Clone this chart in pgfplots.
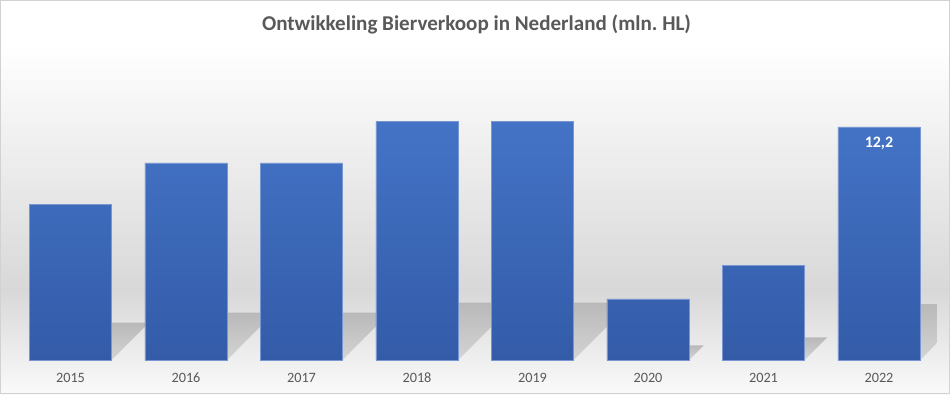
\documentclass[border=0pt]{standalone}
\usepackage{fontspec}
\setmainfont{Carlito}
\usepackage{pgfplots}
\pgfplotsset{compat=1.18}
\definecolor{barTop}{RGB}{68,115,198}
\definecolor{barBot}{RGB}{51,91,168}
\definecolor{barEdge}{RGB}{120,150,210}
\definecolor{txt}{RGB}{89,89,89}
\definecolor{bgMid}{RGB}{216,216,216}
\definecolor{bgLow}{RGB}{250,250,250}
\definecolor{frameC}{RGB}{210,210,210}
\definecolor{shTop}{RGB}{185,185,185}
\definecolor{shBot}{RGB}{212,212,212}
\begin{document}
\begin{tikzpicture}
\begin{scope}[x=0.75pt,y=0.75pt]
\fill[white] (0,0) rectangle (950,394);
\shade[top color=white, bottom color=bgMid] (0,103.5) rectangle (950,349);
\shade[top color=bgMid, bottom color=bgLow] (0,0) rectangle (950,104);
\node[anchor=base, text=txt, font=\bfseries\fontsize{15.8}{19}\selectfont] at (476.5,364) {Ontwikkeling Bierverkoop in Nederland (mln.\ HL)};
\end{scope}
\begin{axis}[
  at={(9.5625pt,25.5pt)}, anchor=south west,
  scale only axis, width=693pt, height=232.5pt,
  xmin=-0.5, xmax=7.5, ymin=8, ymax=13.586,
  axis line style={draw=none},
  ytick=\empty,
  xtick={0,...,7},
  xticklabels={2015,2016,2017,2018,2019,2020,2021,2022},
  major tick length=0pt,
  xticklabel style={anchor=base, yshift=-16.8pt, font=\fontsize{10.7}{12}\selectfont, text=txt},
  clip=true,
]
% perspective shadows behind the bars
\addplot[draw=none, top color=shTop, bottom color=shBot, mark=none] coordinates {(-0.355,8) (0.355,8) (0.678,8.672) (-0.032,8.672)} -- cycle;
\addplot[draw=none, top color=shTop, bottom color=shBot, mark=none] coordinates {(0.645,8) (1.355,8) (1.764,8.852) (1.054,8.852)} -- cycle;
\addplot[draw=none, top color=shTop, bottom color=shBot, mark=none] coordinates {(1.645,8) (2.355,8) (2.764,8.852) (2.054,8.852)} -- cycle;
\addplot[draw=none, top color=shTop, bottom color=shBot, mark=none] coordinates {(2.645,8) (3.355,8) (3.851,9.032) (3.141,9.032)} -- cycle;
\addplot[draw=none, top color=shTop, bottom color=shBot, mark=none] coordinates {(3.645,8) (4.355,8) (4.851,9.032) (4.141,9.032)} -- cycle;
\addplot[draw=none, top color=shTop, bottom color=shBot, mark=none] coordinates {(4.645,8) (5.355,8) (5.482,8.264) (4.772,8.264)} -- cycle;
\addplot[draw=none, top color=shTop, bottom color=shBot, mark=none] coordinates {(5.645,8) (6.355,8) (6.551,8.408) (5.841,8.408)} -- cycle;
\addplot[draw=none, top color=shTop, bottom color=shBot, mark=none] coordinates {(6.645,8) (7.355,8) (7.839,9.008) (7.129,9.008)} -- cycle;
% bars
\addplot[ybar, bar width=0.71, bar shift=0pt, draw=barEdge, line width=0.5pt, top color=barTop, bottom color=barBot]
  coordinates {(0,10.8) (1,11.55) (2,11.55) (3,12.3) (4,12.3) (5,9.1) (6,9.7) (7,12.2)};
\addplot[ybar, bar width=0.71, bar shift=0pt, draw=none, fill=none,
  nodes near coords={12{,}2},
  every node near coord/.append style={anchor=north, yshift=-7.3pt, inner sep=0pt, text=white, font=\bfseries\fontsize{12}{14}\selectfont}]
  coordinates {(7,12.2)};
\end{axis}
\begin{scope}[x=0.75pt,y=0.75pt]
\draw[frameC, line width=1.1pt] (0.75,0.75) rectangle (949.25,393.25);
\end{scope}
\pgfresetboundingbox
\path (0,0) rectangle (712.5pt,295.5pt);
\end{tikzpicture}
\end{document}
